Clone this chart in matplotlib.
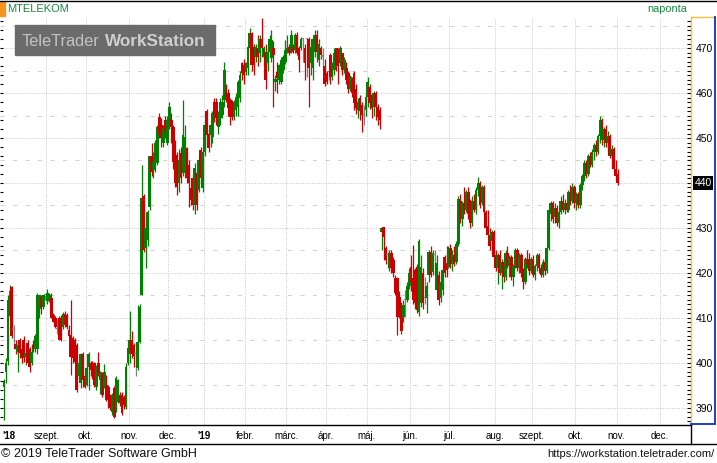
import matplotlib
matplotlib.use('Agg')
import numpy as np
import matplotlib.pyplot as plt
from matplotlib.patches import Rectangle
from matplotlib.lines import Line2D
from matplotlib.ticker import MultipleLocator

plt.rcParams['font.family'] = ['Liberation Sans', 'DejaVu Sans']

# MTELEKOM daily candles (open, high, low, close)
summer18 = [
    (394.6, 396.5, 387.3, 396.0), (398.0, 401.0, 395.5, 400.0), (400.5, 415.0, 399.5, 414.0),
    (410.5, 417.3, 409.5, 416.0), (416.8, 417.2, 405.5, 406.0), (407.5, 408.5, 403.0, 407.5),
    (404.3, 405.0, 402.0, 403.0), (402.5, 405.0, 398.0, 404.0), (405.0, 405.5, 401.0, 402.2),
    (403.0, 404.5, 400.0, 401.0), (405.0, 406.0, 400.3, 401.0), (401.3, 404.0, 399.5, 402.3),
    (404.4, 405.0, 399.8, 400.0), (403.0, 403.5, 398.0, 399.2), (400.0, 404.3, 399.5, 402.5),
    (404.0, 405.0, 402.5, 403.4), (403.0, 406.5, 402.5, 406.0), (403.0, 415.5, 402.0, 415.0),
    (412.0, 415.2, 410.0, 415.0), (414.7, 415.0, 410.8, 412.5), (412.5, 415.2, 412.0, 415.0),
    (415.0, 415.2, 414.0, 415.0), (413.8, 416.5, 413.0, 415.5), (414.0, 415.5, 413.5, 415.0),
    (414.5, 415.5, 410.0, 410.1), (410.7, 411.0, 409.0, 409.2), (410.0, 410.5, 407.7, 408.0),
    (407.5, 410.0, 406.5, 407.5), (410.0, 410.5, 405.0, 405.0), (410.0, 410.7, 404.8, 405.0),
    (408.0, 411.3, 407.5, 410.8), (410.8, 411.5, 408.0, 408.4), (410.7, 411.0, 407.5, 408.0),
    (407.3, 408.4, 405.5, 406.0), (406.2, 414.0, 397.3, 401.4), (405.5, 406.0, 400.0, 401.0),
    (405.0, 405.5, 400.0, 400.3), (404.0, 404.5, 393.5, 394.0),
]
autumn18 = [
    (397.0, 400.5, 396.5, 400.0), (395.5, 402.2, 394.5, 402.0), (402.1, 402.5, 394.7, 396.2),
    (397.0, 397.5, 394.5, 394.7), (395.1, 402.1, 394.8, 398.8), (399.2, 402.5, 394.0, 402.1),
    (400.0, 400.5, 397.0, 398.4), (400.0, 400.5, 396.5, 397.0), (400.0, 400.3, 394.7, 395.1),
    (394.7, 399.5, 394.0, 399.2), (400.0, 402.5, 397.0, 397.3), (396.2, 398.2, 393.0, 397.9),
    (397.3, 398.0, 392.5, 392.9), (394.7, 399.8, 394.5, 398.1), (395.1, 397.3, 391.5, 391.8),
    (394.7, 395.0, 390.0, 391.8), (392.5, 393.0, 389.5, 390.0), (389.2, 393.3, 388.5, 392.9),
    (394.4, 394.8, 387.7, 388.1), (389.6, 397.0, 389.0, 396.6), (391.4, 396.5, 391.0, 396.2),
    (392.9, 393.5, 390.5, 391.0), (392.9, 393.5, 388.5, 388.8), (392.5, 392.8, 389.8, 390.7),
    (390.3, 400.0, 389.8, 399.2),
]
nov18 = [
    (400.0, 405.0, 399.5, 403.3), (402.0, 411.5, 400.0, 405.0), (405.0, 407.0, 401.0, 402.0),
    (404.0, 404.5, 399.0, 401.5), (402.0, 404.5, 397.0, 402.0), (398.8, 412.9, 398.5, 404.7),
    (404.7, 413.0, 404.5, 412.5),
]
rally18 = [
    (415.1, 444.0, 415.0, 436.6), (437.0, 437.5, 424.7, 425.1), (425.5, 431.0, 421.1, 430.0),
    (427.3, 434.0, 426.0, 433.6), (434.7, 446.0, 434.0, 445.9), (445.9, 448.8, 441.5, 442.5),
    (442.8, 447.0, 441.0, 444.7), (444.7, 449.5, 442.5, 448.8), (444.4, 453.0, 444.0, 452.5),
    (454.7, 455.5, 450.0, 451.0), (452.9, 454.5, 448.0, 450.0), (448.8, 453.0, 448.0, 452.2),
    (454.0, 455.0, 450.0, 451.4), (448.8, 455.0, 448.5, 454.0), (453.0, 458.0, 452.0, 457.0),
    (454.0, 455.5, 449.0, 452.5), (452.5, 453.0, 443.0, 444.7), (448.8, 449.5, 439.0, 440.0),
    (446.2, 447.0, 437.3, 439.2), (440.0, 447.5, 438.0, 445.1), (446.6, 448.0, 440.0, 441.0),
    (442.2, 458.4, 441.5, 450.7), (442.2, 452.9, 441.0, 450.3), (447.7, 448.0, 440.0, 441.0),
    (444.0, 445.0, 434.7, 440.0), (438.8, 440.0, 435.0, 436.2), (441.0, 442.0, 434.0, 435.1),
    (435.1, 444.5, 433.0, 443.3), (442.2, 443.0, 434.0, 435.1), (438.5, 446.0, 438.0, 445.1),
    (447.3, 448.0, 440.0, 441.0), (438.8, 448.0, 438.0, 447.0), (447.0, 453.5, 446.0, 452.9),
    (455.9, 456.5, 448.0, 450.7),
]
jan_feb19 = [
    (451.0, 452.0, 447.0, 447.7), (450.7, 454.0, 448.0, 452.9), (450.3, 456.0, 449.0, 455.5),
    (458.1, 459.0, 453.5, 455.1), (458.1, 458.8, 453.0, 454.4), (452.5, 456.0, 451.0, 454.4),
    (454.4, 459.0, 453.0, 458.1), (455.1, 459.5, 454.5, 458.1), (458.4, 467.0, 457.0, 465.1),
    (459.9, 462.0, 458.0, 458.8), (459.9, 461.0, 455.0, 456.6), (458.4, 459.0, 453.0, 454.7),
    (458.1, 458.5, 454.0, 455.1), (454.7, 458.5, 454.0, 458.1), (456.2, 460.0, 455.0, 459.2),
    (456.9, 463.0, 455.0, 462.5), (458.8, 465.0, 458.0, 464.0), (466.6, 467.0, 463.0, 464.4),
    (466.2, 467.5, 462.0, 464.0), (464.7, 467.0, 464.0, 466.6), (465.5, 470.5, 464.0, 470.3),
    (469.9, 474.4, 469.5, 473.3), (473.3, 473.5, 465.0, 466.2), (470.3, 471.0, 464.0, 466.2),
    (468.0, 471.0, 467.0, 470.3), (469.9, 473.0, 466.0, 468.1), (468.8, 473.0, 467.0, 472.1),
    (472.1, 476.6, 468.0, 469.9), (468.0, 470.5, 466.0, 469.9), (469.2, 471.0, 461.0, 462.9),
    (466.6, 470.0, 465.0, 469.2), (469.2, 473.0, 468.0, 472.1), (467.7, 474.0, 467.0, 471.8),
    (469.9, 471.5, 456.8, 468.4),
]
mar_may19 = [
    (462.5, 464.0, 460.5, 463.2), (464.7, 467.0, 460.0, 463.3), (463.0, 466.5, 462.0, 466.2),
    (462.5, 468.0, 462.0, 467.3), (465.1, 468.5, 464.5, 468.1), (466.9, 471.8, 466.5, 469.5),
    (469.2, 472.9, 469.0, 469.9), (470.3, 471.0, 468.5, 468.8), (469.2, 474.0, 469.0, 472.9),
    (470.3, 471.0, 469.0, 469.2), (469.5, 473.3, 469.0, 472.9), (472.9, 473.5, 468.5, 468.8),
    (469.9, 470.5, 464.7, 467.3), (469.9, 472.5, 469.5, 472.1), (472.0, 472.2, 467.0, 472.0),
    (469.9, 471.0, 463.0, 466.6), (472.0, 472.2, 463.6, 472.0), (472.1, 472.5, 457.0, 465.5),
    (466.6, 472.0, 464.0, 470.3), (465.5, 472.5, 462.9, 472.1), (469.2, 474.0, 468.0, 472.9),
    (472.9, 474.0, 467.0, 469.2), (467.3, 472.0, 466.0, 471.0), (469.9, 470.5, 467.5, 468.4),
    (468.1, 469.9, 465.1, 468.1), (465.9, 467.5, 461.5, 462.1), (464.4, 465.0, 462.0, 462.5),
    (464.7, 465.8, 462.8, 464.7), (468.4, 469.0, 462.0, 463.6), (465.1, 467.0, 462.9, 466.6),
    (465.1, 470.0, 464.0, 468.8), (469.9, 470.0, 465.0, 465.9), (469.2, 470.0, 462.0, 466.6),
    (466.9, 470.5, 466.0, 469.9), (468.8, 469.0, 464.0, 465.1), (465.1, 468.0, 464.5, 467.3),
    (465.5, 467.0, 462.0, 462.9), (464.4, 465.0, 460.0, 461.0), (461.0, 464.0, 460.5, 463.6),
    (462.9, 463.5, 459.2, 460.0), (464.4, 465.0, 456.2, 457.7), (461.0, 462.0, 455.4, 456.6),
    (456.2, 459.0, 454.4, 458.1), (458.8, 459.5, 454.0, 455.9), (457.3, 458.0, 451.4, 455.1),
    (455.1, 457.3, 452.9, 455.1), (456.2, 460.0, 455.0, 459.2), (459.2, 463.5, 457.0, 462.5),
    (461.4, 462.0, 456.5, 457.7), (459.6, 460.0, 454.5, 456.6), (457.0, 460.5, 455.0, 459.9),
    (459.9, 460.5, 454.0, 457.0), (457.0, 457.5, 453.0, 454.7), (456.2, 457.0, 452.0, 454.0),
]
may_jul19 = [
    (429.2, 430.3, 425.1, 429.9), (430.3, 430.3, 422.9, 428.1), (425.5, 426.0, 422.0, 422.9),
    (424.0, 424.7, 421.0, 424.0), (421.0, 425.0, 420.5, 424.4), (424.4, 425.0, 420.0, 421.0),
    (422.9, 423.5, 419.0, 419.9), (418.8, 419.5, 415.0, 415.5), (418.8, 419.0, 406.2, 410.3),
    (414.7, 416.0, 410.0, 411.4), (412.9, 413.5, 406.5, 407.0), (410.3, 414.0, 409.0, 412.9),
    (414.0, 416.2, 410.3, 414.0), (414.0, 418.0, 413.5, 417.0), (417.0, 421.0, 416.5, 419.9),
    (421.4, 424.0, 416.0, 418.1), (418.8, 426.2, 413.0, 414.0), (420.7, 421.0, 412.0, 413.3),
    (421.4, 422.0, 411.0, 411.8), (411.4, 427.5, 410.5, 427.0), (413.3, 424.0, 412.5, 421.4),
    (419.9, 421.0, 412.0, 413.3), (414.4, 419.0, 413.0, 414.4), (414.4, 418.0, 411.0, 417.0),
    (419.5, 425.0, 418.0, 424.7), (424.7, 426.0, 419.0, 419.5), (420.3, 425.0, 419.5, 424.4),
    (424.0, 425.1, 420.3, 424.0), (416.2, 424.0, 415.5, 422.2), (419.6, 420.5, 412.8, 414.0),
    (414.4, 419.0, 413.5, 418.1), (416.2, 421.5, 415.0, 420.7), (423.6, 424.0, 419.0, 419.9),
    (422.2, 426.0, 419.0, 420.7), (421.4, 426.0, 421.0, 425.5),
]
jul_oct19 = [
    (425.5, 426.5, 421.0, 422.0), (422.0, 425.0, 420.5, 424.0), (424.0, 426.0, 421.5, 422.5),
    (422.5, 427.0, 422.0, 426.5), (426.5, 437.0, 426.0, 436.5), (436.0, 437.5, 431.0, 432.0),
    (432.0, 436.0, 430.5, 435.5), (435.5, 439.0, 433.0, 434.0), (434.0, 438.5, 433.5, 438.0),
    (438.0, 439.0, 432.0, 433.0), (433.0, 436.5, 430.0, 431.0), (431.0, 437.0, 430.5, 436.0),
    (436.0, 437.5, 433.5, 434.0), (434.0, 439.0, 433.0, 438.5), (438.5, 441.3, 437.0, 440.0),
    (440.0, 440.5, 434.5, 435.0), (435.5, 439.5, 435.0, 439.0), (439.0, 439.5, 433.0, 433.5),
    (433.5, 434.0, 429.5, 430.0), (430.5, 434.0, 428.0, 428.5), (428.5, 430.0, 425.0, 426.0),
    (427.0, 429.5, 424.5, 429.0), (429.0, 429.5, 423.0, 423.5), (424.0, 425.0, 420.5, 421.0),
    (421.0, 424.5, 417.5, 424.0), (424.0, 425.0, 419.5, 420.0), (420.0, 423.0, 416.5, 422.5),
    (422.5, 423.5, 418.0, 419.0), (419.0, 425.0, 418.5, 424.5), (424.5, 426.0, 421.0, 421.5),
    (421.5, 424.0, 419.0, 423.5), (423.5, 424.0, 418.5, 419.0), (419.0, 422.0, 417.0, 421.5),
    (421.5, 425.5, 421.0, 425.0), (425.0, 425.5, 420.5, 421.0), (421.0, 424.5, 420.0, 424.0),
    (424.0, 424.5, 419.0, 420.0), (420.0, 421.0, 416.5, 418.0), (418.0, 423.5, 417.5, 423.0),
    (423.0, 425.0, 421.0, 422.0), (422.0, 424.5, 419.5, 420.5), (420.5, 423.5, 420.0, 423.0),
    (423.0, 424.0, 419.0, 419.5), (419.5, 422.0, 418.5, 421.5), (421.5, 424.5, 420.5, 424.0),
    (424.0, 424.5, 420.0, 421.0), (421.0, 422.0, 419.0, 419.5), (419.5, 423.0, 419.0, 422.5),
    (422.5, 423.0, 419.5, 420.5), (420.5, 426.0, 420.0, 425.5), (425.5, 434.5, 425.0, 434.0),
    (433.0, 436.0, 431.5, 435.5), (435.5, 436.0, 431.0, 432.0), (432.5, 435.5, 431.0, 434.5),
    (434.5, 435.0, 430.5, 431.0), (431.0, 434.0, 430.0, 433.5), (433.5, 437.0, 433.0, 436.0),
    (436.0, 437.5, 433.5, 434.0), (434.0, 436.5, 433.0, 435.5), (435.5, 436.0, 433.5, 434.0),
    (434.0, 438.5, 433.5, 438.0), (438.0, 439.5, 435.0, 436.0), (436.0, 440.0, 435.5, 439.0),
    (439.0, 439.5, 434.5, 435.5), (435.5, 438.0, 434.0, 437.5), (437.5, 438.0, 434.5, 435.0),
    (435.0, 440.0, 434.5, 439.5), (439.5, 442.0, 438.5, 441.5), (441.5, 445.0, 440.5, 444.5),
    (444.5, 445.0, 441.0, 442.0), (442.0, 446.5, 441.5, 446.0), (446.0, 447.0, 443.5, 444.0),
    (444.0, 447.5, 443.5, 447.0), (447.0, 449.0, 445.0, 448.5), (448.5, 449.5, 446.0, 447.0),
    (447.0, 451.0, 446.5, 450.5), (450.5, 454.8, 449.0, 454.0), (454.0, 454.5, 448.5, 449.5),
    (449.5, 452.5, 448.0, 452.0), (452.0, 453.0, 448.0, 449.0), (449.0, 451.5, 447.0, 450.5),
    (450.5, 451.0, 445.5, 446.0), (446.0, 448.5, 443.5, 447.5), (447.5, 448.0, 442.5, 443.0),
    (443.0, 445.0, 440.5, 441.5), (442.0, 443.0, 439.5, 440.0),
]

# first trading day (candle index) of each month shown on the time axis
month_first = [22, 42, 64, 84, 102, 123, 144, 164, 185, 207, 227, 250, 269, 291, 312, 334]
month_names = ['szept.', 'okt.', 'nov.', 'dec.', "'19", 'febr.', 'márc.', 'ápr.', 'máj.',
               'jún.', 'júl.', 'aug.', 'szept.', 'okt.', 'nov.', 'dec.']
last_price = 440

candles = summer18 + autumn18 + nov18 + rally18 + jan_feb19 + mar_may19 + may_jul19 + jul_oct19
o, h, l, c = np.array(candles).T
idx = np.arange(len(candles))

W, H = 717, 463
fig = plt.figure(figsize=(W / 100, H / 100), dpi=100)
fx = lambda px: px / W
fy = lambda py: 1 - py / H

ax = fig.add_axes([0, fy(425), fx(691), fy(17) - fy(425)])
ax.set_xlim(-2.03, 349.3)
ax.set_ylim(386.22, 476.89)

# grid
grid_col = '#cdcdcd'
for p in range(390, 471, 10):
    ax.axhline(p, color=grid_col, lw=0.75, ls=(0, (1, 1.2)), zorder=0)
for p in range(395, 476, 10):
    ax.axhline(p, color='#d2d2d2', lw=0.75, ls=(0, (4, 8)), zorder=0)
for m in month_first:
    ax.axvline(m - 0.5, color=grid_col, lw=0.75, ls=(0, (1, 1.2)), zorder=0)

# candles
colors = np.where(c > o, '#008000', np.where(c < o, '#cc0000', '#808080'))
ax.vlines(idx, l, h, colors=colors, lw=0.9, zorder=2)
body_lo = np.minimum(o, c)
body_h = np.maximum(np.abs(c - o), 0.25)
ax.bar(idx, body_h, bottom=body_lo, width=1.4, color=colors, linewidth=0, zorder=3)

# axes styling
for s in ['left', 'top']:
    ax.spines[s].set_visible(False)
ax.spines['bottom'].set_color('black')
ax.spines['bottom'].set_linewidth(1.0)
ax.spines['right'].set_color('#f2c037')
ax.spines['right'].set_linewidth(1.0)

ax.set_yticks(range(390, 471, 10))
ax.yaxis.set_minor_locator(MultipleLocator(1))
ax.tick_params(axis='y', which='both', direction='in', length=2.6, width=0.8,
               left=False, right=True, labelleft=False, labelright=True,
               pad=3.2, labelsize=7.5, colors='black')
ax.tick_params(axis='y', which='minor', length=2.6)
# small ticks along the left edge
ax.hlines(np.arange(388, 477, 2), 0, 3 / 691, transform=ax.get_yaxis_transform(),
          color='black', lw=0.8, zorder=4)

ax.set_xticks([2.6] + [m - 0.5 for m in month_first])
ax.set_xticklabels(["'18"] + month_names)
ax.tick_params(axis='x', length=0, pad=4.5, labelsize=7, colors='black')
for t in ax.get_xticklabels():
    if t.get_text().startswith("'"):
        t.set_fontweight('bold')

# last price marker
ax.annotate(str(last_price), xy=(1.0, last_price), xycoords=('axes fraction', 'data'),
            xytext=(2.5, 0), textcoords='offset points', ha='left', va='center',
            fontsize=7.5, color='white', annotation_clip=False, zorder=10,
            bbox=dict(boxstyle='square,pad=0.15', fc='black', ec='none'))

# frame lines around the chart
def fline(x0, y0, x1, y1, col, lw=1.0):
    fig.add_artist(Line2D([fx(x0), fx(x1)], [fy(y0), fy(y1)], color=col, lw=lw,
                          transform=fig.transFigure))

fline(0, 0.5, W, 0.5, 'black')
fline(0, 444, W, 444, 'black')
fline(690.5, 425, 690.5, 444, 'black')
fline(691, 17, 715, 17, '#f2c037')
fline(715, 17, 715, 423, '#2040c0', 1.4)
fline(691, 423.5, 715, 423.5, '#2040c0', 1.4)

# header
fig.add_artist(Rectangle((fx(0), fy(16)), fx(5), fy(2) - fy(16), color='#f7941d',
                         transform=fig.transFigure))
fig.text(fx(7), fy(9), 'MTELEKOM', fontsize=8, color='#178a3c', va='center', ha='left')
fig.text(fx(687), fy(9), 'naponta', fontsize=7.8, color='#178a3c', va='center', ha='right')

# watermark
fig.add_artist(Rectangle((fx(15), fy(55)), fx(200), fy(25) - fy(55), color='#6b6b6b',
                         transform=fig.transFigure, zorder=5))
fig.text(fx(22), fy(46), 'TeleTrader', fontsize=11.8, color='#c4c4c4', ha='left',
         va='baseline', zorder=6)
fig.text(fx(105), fy(46), 'WorkStation', fontsize=12.3, fontweight='bold',
         color='#cfcfcf', ha='left', va='baseline', zorder=6)

# footer
fig.text(fx(1), fy(454), '© 2019 TeleTrader Software GmbH', fontsize=9, color='#111111',
         ha='left', va='center')
fig.text(fx(715), fy(454), 'https://workstation.teletrader.com/', fontsize=8,
         color='#111111', ha='right', va='center')

fig.savefig('out.png', dpi=100)
